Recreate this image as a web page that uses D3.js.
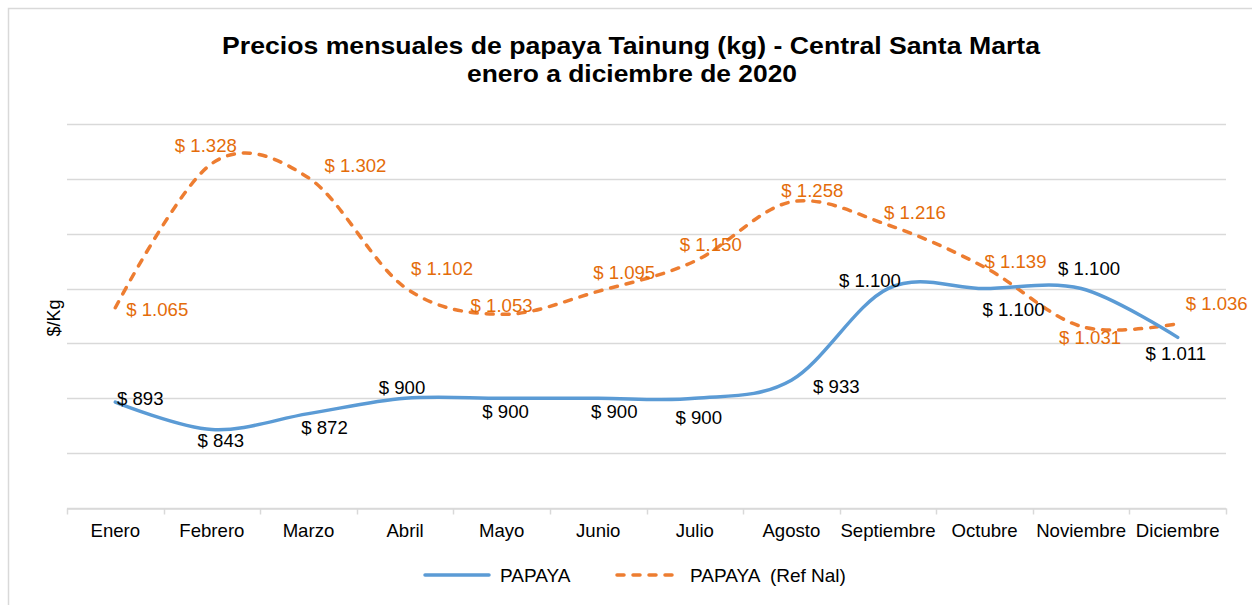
<!DOCTYPE html>
<html>
<head>
<meta charset="utf-8">
<script src="https://cdn.jsdelivr.net/npm/d3@7"></script>
<style>
  html, body { margin: 0; padding: 0; background: #fff; }
  svg { display: block; font-family: "Liberation Sans", Arial, sans-serif; }
</style>
</head>
<body>
<div id="chart"></div>
<script>
const months = ["Enero", "Febrero", "Marzo", "Abril", "Mayo", "Junio", "Julio",
    "Agosto", "Septiembre", "Octubre", "Noviembre", "Diciembre"];
const papaya = [893, 843, 872, 900, 900, 900, 900, 933, 1100, 1100, 1100, 1011];
const papayaRef = [1065, 1328, 1302, 1102, 1053, 1095, 1150, 1258, 1216, 1139, 1031, 1036];
const yTicks = [700, 800, 900, 1000, 1100, 1200, 1300, 1400];

// label offsets from each point (dx, dy), as Excel placed them
const papayaLabelOffsets = [[25, -4], [9, 11], [16, 14], [-3, -11], [4, 13], [16, 13], [4, 19],
    [45, 6], [-18, -8], [29, 21], [8, -20], [-2, 16]];
const refLabelOffsets = [[42, 2], [-6, -18], [47, -12], [37, -19], [0, -9], [26, -19], [16, -17],
    [21, -11], [27, -12], [31, -6], [9, 11], [39, -20]];

const width = 1252, height = 605;
const margin = { top: 124, right: 26, bottom: 97, left: 67 };

const svg = d3.select("#chart").append("svg")
    .attr("width", width)
    .attr("height", height);

// outer chart border
svg.append("rect")
    .attr("x", 8.5).attr("y", 8.5)
    .attr("width", width + 20).attr("height", height + 20)
    .attr("fill", "none")
    .attr("stroke", "#d9d9d9")
    .attr("stroke-width", 1.5);

const x = d3.scaleBand()
    .domain(months)
    .range([margin.left, width - margin.right])
    .paddingInner(0).paddingOuter(0);

const y = d3.scaleLinear()
    .domain([700, 1400])
    .range([height - margin.bottom, margin.top]);

const cx = m => x(m) + x.bandwidth() / 2;

// gridlines
svg.append("g")
    .selectAll("line")
    .data(yTicks)
    .join("line")
    .attr("x1", margin.left)
    .attr("x2", width - margin.right)
    .attr("y1", d => Math.round(y(d)) + 0.5)
    .attr("y2", d => Math.round(y(d)) + 0.5)
    .attr("stroke", "#d9d9d9")
    .attr("stroke-width", 1.5);

// x axis
const xAxis = svg.append("g")
    .attr("transform", `translate(0,${Math.round(y(700)) + 0.5})`)
    .call(d3.axisBottom(x).tickSize(0).tickPadding(15));
xAxis.select(".domain").attr("stroke", "#d9d9d9").attr("stroke-width", 1.5);
xAxis.selectAll("text")
    .attr("font-size", 18.6)
    .attr("fill", "#000")
    .attr("font-family", "Liberation Sans, Arial, sans-serif");

// tick marks at band boundaries
const boundaries = months.map(m => x(m)).concat([x(months[months.length - 1]) + x.bandwidth()]);
xAxis.selectAll(".bound")
    .data(boundaries)
    .join("line")
    .attr("class", "bound")
    .attr("x1", d => Math.round(d) + 0.5)
    .attr("x2", d => Math.round(d) + 0.5)
    .attr("y1", 0).attr("y2", 6)
    .attr("stroke", "#d9d9d9")
    .attr("stroke-width", 1.5);

// title
const title = svg.append("text")
    .attr("text-anchor", "middle")
    .attr("font-size", 24)
    .attr("font-weight", "bold")
    .attr("fill", "#000");
title.append("tspan").attr("x", 631).attr("y", 54)
    .attr("textLength", 818).attr("lengthAdjust", "spacingAndGlyphs")
    .text("Precios mensuales de papaya Tainung (kg) - Central Santa Marta");
title.append("tspan").attr("x", 632).attr("y", 82)
    .attr("textLength", 330).attr("lengthAdjust", "spacingAndGlyphs")
    .text("enero a diciembre de 2020");

// y axis title
svg.append("text")
    .attr("transform", "translate(60,318) rotate(-90)")
    .attr("text-anchor", "middle")
    .attr("font-size", 18)
    .attr("fill", "#000")
    .text("$/Kg");

const line = d3.line()
    .x((d, i) => cx(months[i]))
    .y(d => y(d))
    .curve(d3.curveCardinal.tension(0));

svg.append("path")
    .datum(papayaRef)
    .attr("d", line)
    .attr("fill", "none")
    .attr("stroke", "#ED7D31")
    .attr("stroke-width", 3.5)
    .attr("stroke-dasharray", "7,9")
    .attr("stroke-linecap", "round");

svg.append("path")
    .datum(papaya)
    .attr("d", line)
    .attr("fill", "none")
    .attr("stroke", "#5B9BD5")
    .attr("stroke-width", 3.5)
    .attr("stroke-linecap", "round");

const fmt = v => "$ " + d3.format(",")(v).replace(/,/g, ".");

function labels(values, offsets, color) {
    svg.append("g")
        .selectAll("text")
        .data(values)
        .join("text")
        .attr("x", (d, i) => cx(months[i]) + offsets[i][0])
        .attr("y", (d, i) => y(d) + offsets[i][1])
        .attr("dy", "0.35em")
        .attr("text-anchor", "middle")
        .attr("font-size", 18.6)
        .attr("fill", color)
        .text(fmt);
}
labels(papayaRef, refLabelOffsets, "#E46C0A");
labels(papaya, papayaLabelOffsets, "#000");

// legend
const legend = svg.append("g").attr("transform", "translate(0,575)");
legend.append("line")
    .attr("x1", 425).attr("x2", 489)
    .attr("stroke", "#5B9BD5").attr("stroke-width", 3.5).attr("stroke-linecap", "round");
legend.append("text")
    .attr("x", 500).attr("dy", "0.35em")
    .attr("font-size", 19).text("PAPAYA");
legend.append("line")
    .attr("x1", 617).attr("x2", 680)
    .attr("stroke", "#ED7D31").attr("stroke-width", 3.5)
    .attr("stroke-dasharray", "7,9").attr("stroke-linecap", "round");
legend.append("text")
    .attr("x", 690).attr("dy", "0.35em")
    .attr("font-size", 19).attr("xml:space", "preserve")
    .text("PAPAYA  (Ref Nal)");
</script>
</body>
</html>
